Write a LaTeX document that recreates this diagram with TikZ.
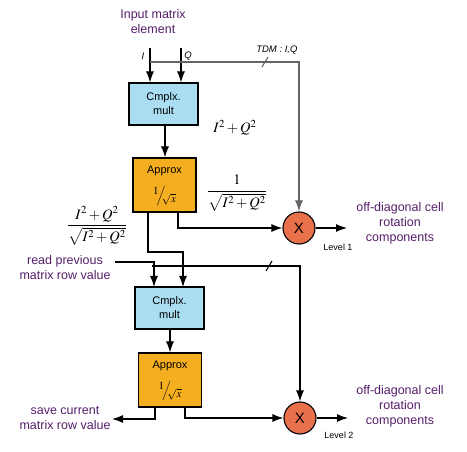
\documentclass[tikz,border=0pt]{standalone}
\usepackage{mathptmx}
\usepackage{fontspec}
\setmainfont{Liberation Sans}
\usetikzlibrary{arrows.meta}
\definecolor{purp}{RGB}{85,30,105}
\definecolor{cmblue}{RGB}{170,220,242}
\definecolor{aporange}{RGB}{245,174,31}
\definecolor{xred}{RGB}{232,112,74}
\definecolor{tdmgray}{RGB}{100,100,100}
\tikzset{
  purptext/.style={text=purp, align=center, font=\fontsize{12.5}{15}\selectfont},
  cmbox/.style={draw, fill=cmblue, line width=1.1pt, minimum width=69pt, minimum height=42pt, align=center, font=\fontsize{11}{14}\selectfont, inner sep=0pt},
  apbox/.style={draw, fill=aporange, line width=1.1pt, minimum width=63pt, minimum height=54pt, inner sep=0pt},
  xnode/.style={draw, circle, fill=xred, line width=1.1pt, minimum size=32pt, inner sep=0pt, font=\fontsize{15}{15}\selectfont},
  conn/.style={line width=1.1pt},
  arr/.style={conn, -{Latex[length=11pt,width=8pt]}},
  small/.style={font=\fontsize{9}{10}\selectfont},
  smallit/.style={font=\fontsize{9.5}{10}\selectfont\itshape},
  mathlbl/.style={font=\fontsize{14.5}{16}\selectfont},
  aplbl/.style={font=\fontsize{11}{12}\selectfont},
  fraclbl/.style={font=\fontsize{11}{12}\selectfont, inner sep=0pt},
}
\newcommand{\invsqrt}{\raisebox{4.5pt}{$1$}\kern-2pt$\Big/$\kern-3.5pt\raisebox{-4pt}{$\sqrt{x}$}}
\begin{document}
\begin{tikzpicture}[x=1pt,y=-1pt]
\useasboundingbox (0,0) rectangle (467,452);
% top input
\node[purptext] (in) at (153,22) {Input matrix\\element};
\coordinate (Itop) at (150,48);
\coordinate (Qtop) at (181,48);
\node[smallit] (Ilbl) at (143,56) {I};
\node[smallit] (Qlbl) at (188,56) {Q};
\node[smallit, anchor=east] (tdm1) at (301,50) {TDM : I,Q};
% blocks
\node[cmbox] (cm1) at (163.5,104) {Cmplx.\\mult};
\node[apbox] (ap1) at (164.5,185) {};
\node[aplbl] (ap1t) at (164.5,171) {Approx};
\node[fraclbl] (ap1f) at (164.5,196) {\invsqrt};
\node[cmbox] (cm2) at (169.5,308) {Cmplx.\\mult};
\node[apbox] (ap2) at (170,380) {};
\node[aplbl] (ap2t) at (170,366) {Approx};
\node[fraclbl] (ap2f) at (170,391) {\invsqrt};
\node[xnode] (x1) at (299,228) {X};
\node[xnode] (x2) at (300,418) {X};
% I, Q inputs
\draw[arr] (Itop) -- (Itop |- cm1.north);
\draw[arr] (Qtop) -- (Qtop |- cm1.north);
% TDM line 1
\coordinate (t1) at (150,62);
\draw[conn, tdmgray, -{Latex[length=11pt,width=8pt]}] (t1) -| (x1.north);
\draw[conn, tdmgray] (262,67) -- (268,57);
% cm1 -> ap1
\draw[arr] (cm1.south -| 165,0) -- (ap1.north -| 165,0);
\node[mathlbl] (sq1) at (235,128) {$I^2+Q^2$};
% ap1 outputs
\coordinate (a1r) at (178,212);
\draw[arr] (a1r) |- (x1.west);
\node[mathlbl] (f1) at (237,193) {$\displaystyle\frac{1}{\sqrt{I^2+Q^2}}$};
\coordinate (a1l) at (148,212);
\coordinate (cm2b) at (183,287);
\draw[arr] (a1l) -- (148,252) -| (cm2b);
\node[mathlbl] (f2) at (97,226) {$\displaystyle\frac{I^2+Q^2}{\sqrt{I^2+Q^2}}$};
% read previous
\node[purptext] (rp) at (65,268) {read previous\\matrix row value};
\coordinate (rpe) at (115,262);
\coordinate (cm2a) at (154,287);
\draw[arr] (rpe) -| (cm2a);
\coordinate (t2) at (152,266);
\draw[arr] (t2) -| (x2.north);
\draw[conn] (266,271) -- (272,261);
% cm2 -> ap2
\draw[arr] (cm2.south -| 170,0) -- (ap2.north -| 170,0);
% ap2 outputs
\node[purptext] (sc) at (65,418) {save current\\matrix row value};
\coordinate (a2l) at (155,407);
\coordinate (sce) at (112,419);
\draw[arr] (a2l) |- (sce);
\coordinate (a2r) at (185,407);
\draw[arr] (a2r) |- (x2.west);
% outputs
\coordinate (o1) at (347,228);
\coordinate (o2) at (348,418);
\draw[arr] (x1.east) -- (o1);
\draw[arr] (x2.east) -- (o2);
\node[small] (l1) at (338,247) {Level 1};
\node[small] (l2) at (339,435) {Level 2};
\node[purptext] (r1) at (400,223) {off-diagonal cell\\rotation\\components};
\node[purptext] (r2) at (400,406) {off-diagonal cell\\rotation\\components};
\end{tikzpicture}
\end{document}
